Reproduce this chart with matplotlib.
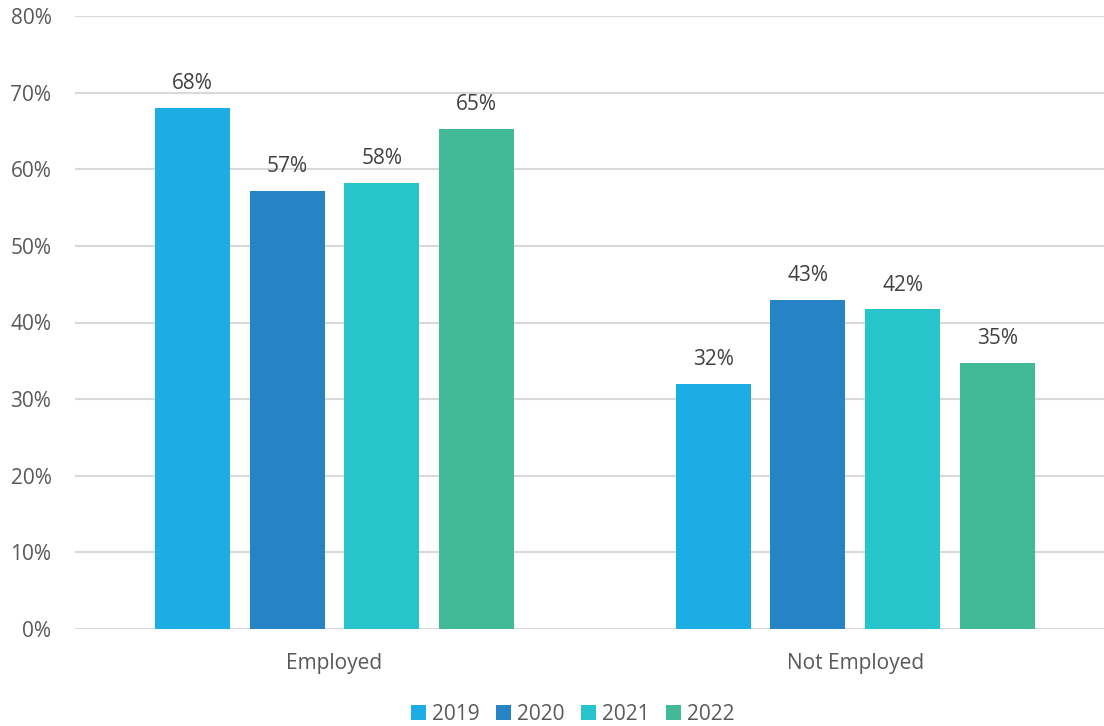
import matplotlib
matplotlib.use("Agg")
import matplotlib.pyplot as plt
import numpy as np

categories = ["Employed", "Not Employed"]
years = ["2019", "2020", "2021", "2022"]
values = {
    "2019": [68.0, 32.0],
    "2020": [57.2, 42.9],
    "2021": [58.2, 41.7],
    "2022": [65.3, 34.7],
}
labels = {
    "2019": ["68%", "32%"],
    "2020": ["57%", "43%"],
    "2021": ["58%", "42%"],
    "2022": ["65%", "35%"],
}
colors = ["#1CADE4", "#2683C6", "#27C4CC", "#42BA97"]
yticks = [0, 10, 20, 30, 40, 50, 60, 70, 80]

plt.rcParams['font.family'] = ['Open Sans', 'DejaVu Sans']

fig = plt.figure(figsize=(11.04, 7.26), dpi=100)
ax = fig.add_axes([75/1104, 1-629/726, (1104-75)/1104, (629-16)/726])

x = np.arange(len(categories))
width = 0.144
step = 0.182
for i, yr in enumerate(years):
    off = (i - 1.5) * step
    bars = ax.bar(x + off, values[yr], width, color=colors[i], label=yr, zorder=3)
    for b, lab in zip(bars, labels[yr]):
        ax.text(b.get_x() + b.get_width()/2, b.get_height() + 1.8, lab,
                ha='center', va='bottom', fontsize=15, color='#404040')

ax.set_ylim(0, 80)
ax.set_xlim(-0.4985, 1.478)
ax.set_yticks(yticks)
ax.set_yticklabels([f"{v}%" for v in yticks])
ax.set_xticks(x)
ax.set_xticklabels(categories)
ax.tick_params(axis='both', length=0, labelsize=15, colors='#595959')
ax.tick_params(axis='y', pad=17)
ax.tick_params(axis='x', pad=17)
ax.grid(axis='y', color='#D9D9D9', linewidth=1.5, zorder=0)
for s in ax.spines.values():
    s.set_visible(False)

leg = fig.legend(loc='center', bbox_to_anchor=(573/1104, 1-714/726), ncol=4,
                 frameon=False, fontsize=15, handlelength=0.7, handleheight=0.7,
                 handletextpad=0.3, columnspacing=0.8)
for t in leg.get_texts():
    t.set_color('#595959')

fig.savefig("out.png", dpi=100)
